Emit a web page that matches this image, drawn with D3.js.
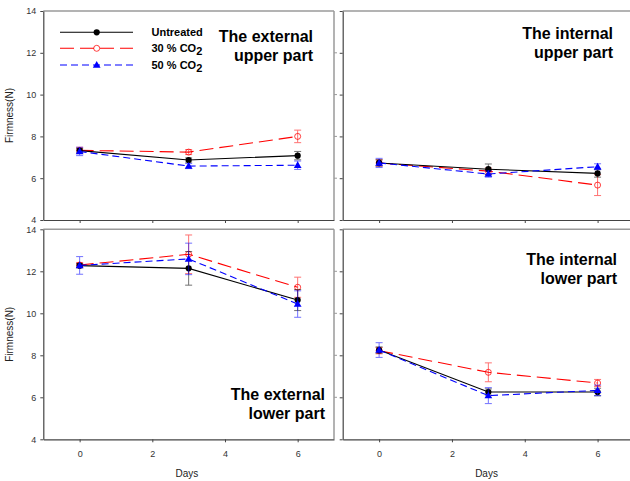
<!DOCTYPE html>
<html>
<head>
<meta charset="utf-8">
<script src="https://cdn.jsdelivr.net/npm/d3@7/dist/d3.min.js"></script>
<style>
  html, body { margin: 0; padding: 0; background: #fff; }
  svg { display: block; font-family: Arial, "Liberation Sans", sans-serif; }
</style>
</head>
<body>
<svg id="chart" width="630" height="481"></svg>
<script>
// Sampling days
const days = [0, 3, 6];
const seriesNames = ["Untreated", "30 % CO2", "50 % CO2"];
const yTicks = [4, 6, 8, 10, 12, 14];
const xTicks = [0, 2, 4, 6];

// Firmness (N) means and standard errors per panel and treatment
const extUpperUntreated = [7.32, 6.87, 7.08];
const extUpperUntreatedErr = [0.10, 0.10, 0.20];
const extUpperCO2_30 = [7.33, 7.25, 8.00];
const extUpperCO2_30Err = [0.15, 0.12, 0.30];
const extUpperCO2_50 = [7.28, 6.58, 6.62];
const extUpperCO2_50Err = [0.20, 0.12, 0.20];

const intUpperUntreated = [6.73, 6.43, 6.23];
const intUpperUntreatedErr = [0.15, 0.25, 0.18];
const intUpperCO2_30 = [6.73, 6.34, 5.67];
const intUpperCO2_30Err = [0.15, 0.15, 0.50];
const intUpperCO2_50 = [6.73, 6.20, 6.55];
const intUpperCO2_50Err = [0.22, 0.15, 0.14];

const extLowerUntreated = [12.27, 12.14, 10.63];
const extLowerUntreatedErr = [0.10, 0.80, 0.50];
const extLowerCO2_30 = [12.30, 12.81, 11.24];
const extLowerCO2_30Err = [0.12, 0.92, 0.48];
const extLowerCO2_50 = [12.28, 12.59, 10.44];
const extLowerCO2_50Err = [0.42, 0.75, 0.63];

const intLowerUntreated = [8.25, 6.25, 6.25];
const intLowerUntreatedErr = [0.15, 0.15, 0.18];
const intLowerCO2_30 = [8.22, 7.19, 6.68];
const intLowerCO2_30Err = [0.15, 0.45, 0.17];
const intLowerCO2_50 = [8.25, 6.08, 6.33];
const intLowerCO2_50Err = [0.35, 0.38, 0.25];

const titles = [
  ["The external", "upper part"],
  ["The internal", "upper part"],
  ["The external", "lower part"],
  ["The internal", "lower part"]
];

const styles = {
  "Untreated": { color: "#000000", dash: null, marker: "dot" },
  "30 % CO2": { color: "#ff0000", dash: "14,6", marker: "open" },
  "50 % CO2": { color: "#0000ff", dash: "7,4", marker: "tri" }
};

const panelData = [
  { vals: [extUpperUntreated, extUpperCO2_30, extUpperCO2_50], errs: [extUpperUntreatedErr, extUpperCO2_30Err, extUpperCO2_50Err] },
  { vals: [intUpperUntreated, intUpperCO2_30, intUpperCO2_50], errs: [intUpperUntreatedErr, intUpperCO2_30Err, intUpperCO2_50Err] },
  { vals: [extLowerUntreated, extLowerCO2_30, extLowerCO2_50], errs: [extLowerUntreatedErr, extLowerCO2_30Err, extLowerCO2_50Err] },
  { vals: [intLowerUntreated, intLowerCO2_30, intLowerCO2_50], errs: [intLowerUntreatedErr, intLowerCO2_30Err, intLowerCO2_50Err] }
];

// Panel layout: 2 x 2 grid
const cols = [[43.3, 334], [342.7, 634]];
const rows = [[11, 220], [229.3, 439.3]];
const titleRight = [[313, 613], [325, 617]];
const titleTop = [[36, 33], [394, 259]];

const svg = d3.select("#chart");
const frameColor = "#9a9a9a";
const axisColor = "#444";

// Draw order: red, black, blue
const drawOrder = [1, 0, 2];

function marker(g, kind, color, x, y) {
  if (kind === "dot") {
    g.append("circle").attr("cx", x).attr("cy", y).attr("r", 3.1).attr("fill", color);
  } else if (kind === "open") {
    g.append("circle").attr("cx", x).attr("cy", y).attr("r", 3)
      .attr("fill", "none").attr("stroke", color).attr("stroke-width", 1).attr("opacity", 0.75);
  } else {
    g.append("path").attr("d", d3.symbol(d3.symbolTriangle, 26)())
      .attr("transform", `translate(${x},${y + 0.5})`).attr("fill", color);
  }
}

panelData.forEach((pd, i) => {
  const r = Math.floor(i / 2), c = i % 2;
  const [x0, x1] = cols[c];
  const [y0, y1] = rows[r];
  const x = d3.scaleLinear().domain([-1, 7]).range([x0, x1]);
  const y = d3.scaleLinear().domain([4, 14]).range([y1, y0]);
  const g = svg.append("g");

  // top and right frame
  g.append("line").attr("x1", x0).attr("x2", x1).attr("y1", y0).attr("y2", y0)
    .attr("stroke", frameColor).attr("stroke-width", 1.5);
  g.append("line").attr("x1", x1).attr("x2", x1).attr("y1", y0).attr("y2", y1)
    .attr("stroke", frameColor).attr("stroke-width", 1.5);
  // right-side tick marks
  g.selectAll(".rt").data(yTicks.slice(1, -1)).enter().append("line")
    .attr("x1", x1).attr("x2", x1 + 3).attr("y1", d => y(d)).attr("y2", d => y(d))
    .attr("stroke", frameColor).attr("stroke-width", 1);

  // y axis
  const yAxis = d3.axisLeft(y).tickValues(yTicks).tickSizeOuter(0).tickSizeInner(3).tickPadding(4)
    .tickFormat(c === 0 ? d3.format("d") : () => "");
  const ya = g.append("g").attr("transform", `translate(${x0},0)`).call(yAxis);
  ya.select(".domain").attr("stroke", axisColor).attr("stroke-width", 1.2);
  ya.selectAll(".tick line").attr("stroke", axisColor);
  ya.selectAll(".tick text").attr("fill", "#333").attr("font-size", 9).attr("font-family", "Arial, 'Liberation Sans', sans-serif");

  // x axis
  const xAxis = d3.axisBottom(x).tickValues(xTicks).tickSizeOuter(0).tickSizeInner(3).tickPadding(8)
    .tickFormat(r === 1 ? d3.format("d") : () => "");
  const xa = g.append("g").attr("transform", `translate(0,${y1})`).call(xAxis);
  xa.select(".domain").attr("stroke", axisColor).attr("stroke-width", 1.2);
  xa.selectAll(".tick line").attr("stroke", axisColor);
  xa.selectAll(".tick text").attr("fill", "#333").attr("font-size", 9).attr("font-family", "Arial, 'Liberation Sans', sans-serif");

  // series
  drawOrder.forEach(si => {
    const name = seriesNames[si];
    const st = styles[name];
    const pts = days.map((d, k) => ({ d, v: pd.vals[si][k], e: pd.errs[si][k] }));
    const sg = g.append("g");
    sg.append("path")
      .attr("d", d3.line().x(p => x(p.d)).y(p => y(p.v))(pts))
      .attr("fill", "none").attr("stroke", st.color).attr("stroke-width", 1.1)
      .attr("stroke-dasharray", st.dash);
    // error bars
    pts.forEach(p => {
      const eg = sg.append("g").attr("stroke", st.color).attr("stroke-width", 1).attr("opacity", 0.55);
      eg.append("line").attr("x1", x(p.d)).attr("x2", x(p.d)).attr("y1", y(p.v - p.e)).attr("y2", y(p.v + p.e));
      eg.append("line").attr("x1", x(p.d) - 3.5).attr("x2", x(p.d) + 3.5).attr("y1", y(p.v - p.e)).attr("y2", y(p.v - p.e));
      eg.append("line").attr("x1", x(p.d) - 3.5).attr("x2", x(p.d) + 3.5).attr("y1", y(p.v + p.e)).attr("y2", y(p.v + p.e));
    });
    pts.forEach(p => marker(sg, st.marker, st.color, x(p.d), y(p.v)));
  });

  // panel title
  const t = g.append("text").attr("text-anchor", "end").attr("font-weight", "bold")
    .attr("font-size", 16).attr("fill", "#000");
  titles[i].forEach((line, k) => {
    t.append("tspan").attr("x", titleRight[r][c]).attr("y", titleTop[r][c] + 6 + k * 19).text(line);
  });

  // axis titles
  if (c === 0) {
    svg.append("text").attr("transform", `translate(13,${(y0 + y1) / 2}) rotate(-90)`)
      .attr("text-anchor", "middle").attr("font-size", 10).attr("fill", "#222").text("Firmness(N)");
  }
  if (r === 1) {
    svg.append("text").attr("x", x(2.95)).attr("y", 477)
      .attr("text-anchor", "middle").attr("font-size", 10).attr("fill", "#222").text("Days");
  }
});

// legend in the first panel
const leg = svg.append("g");
const legY = [32.3, 48.3, 65];
seriesNames.forEach((name, k) => {
  const st = styles[name];
  leg.append("line").attr("x1", 60).attr("x2", 133).attr("y1", legY[k]).attr("y2", legY[k])
    .attr("stroke", st.color).attr("stroke-width", 1.1).attr("stroke-dasharray", st.dash);
  marker(leg, st.marker, st.color, 96.7, legY[k]);
  const tx = leg.append("text").attr("x", 151.5).attr("y", legY[k] + 4)
    .attr("font-size", 11).attr("font-weight", "bold").attr("fill", "#000");
  if (name.endsWith("CO2")) {
    tx.append("tspan").text(name.slice(0, -1));
    tx.append("tspan").attr("dy", 3).attr("font-size", 11).text("2");
  } else {
    tx.text(name);
  }
});
</script>
</body>
</html>
